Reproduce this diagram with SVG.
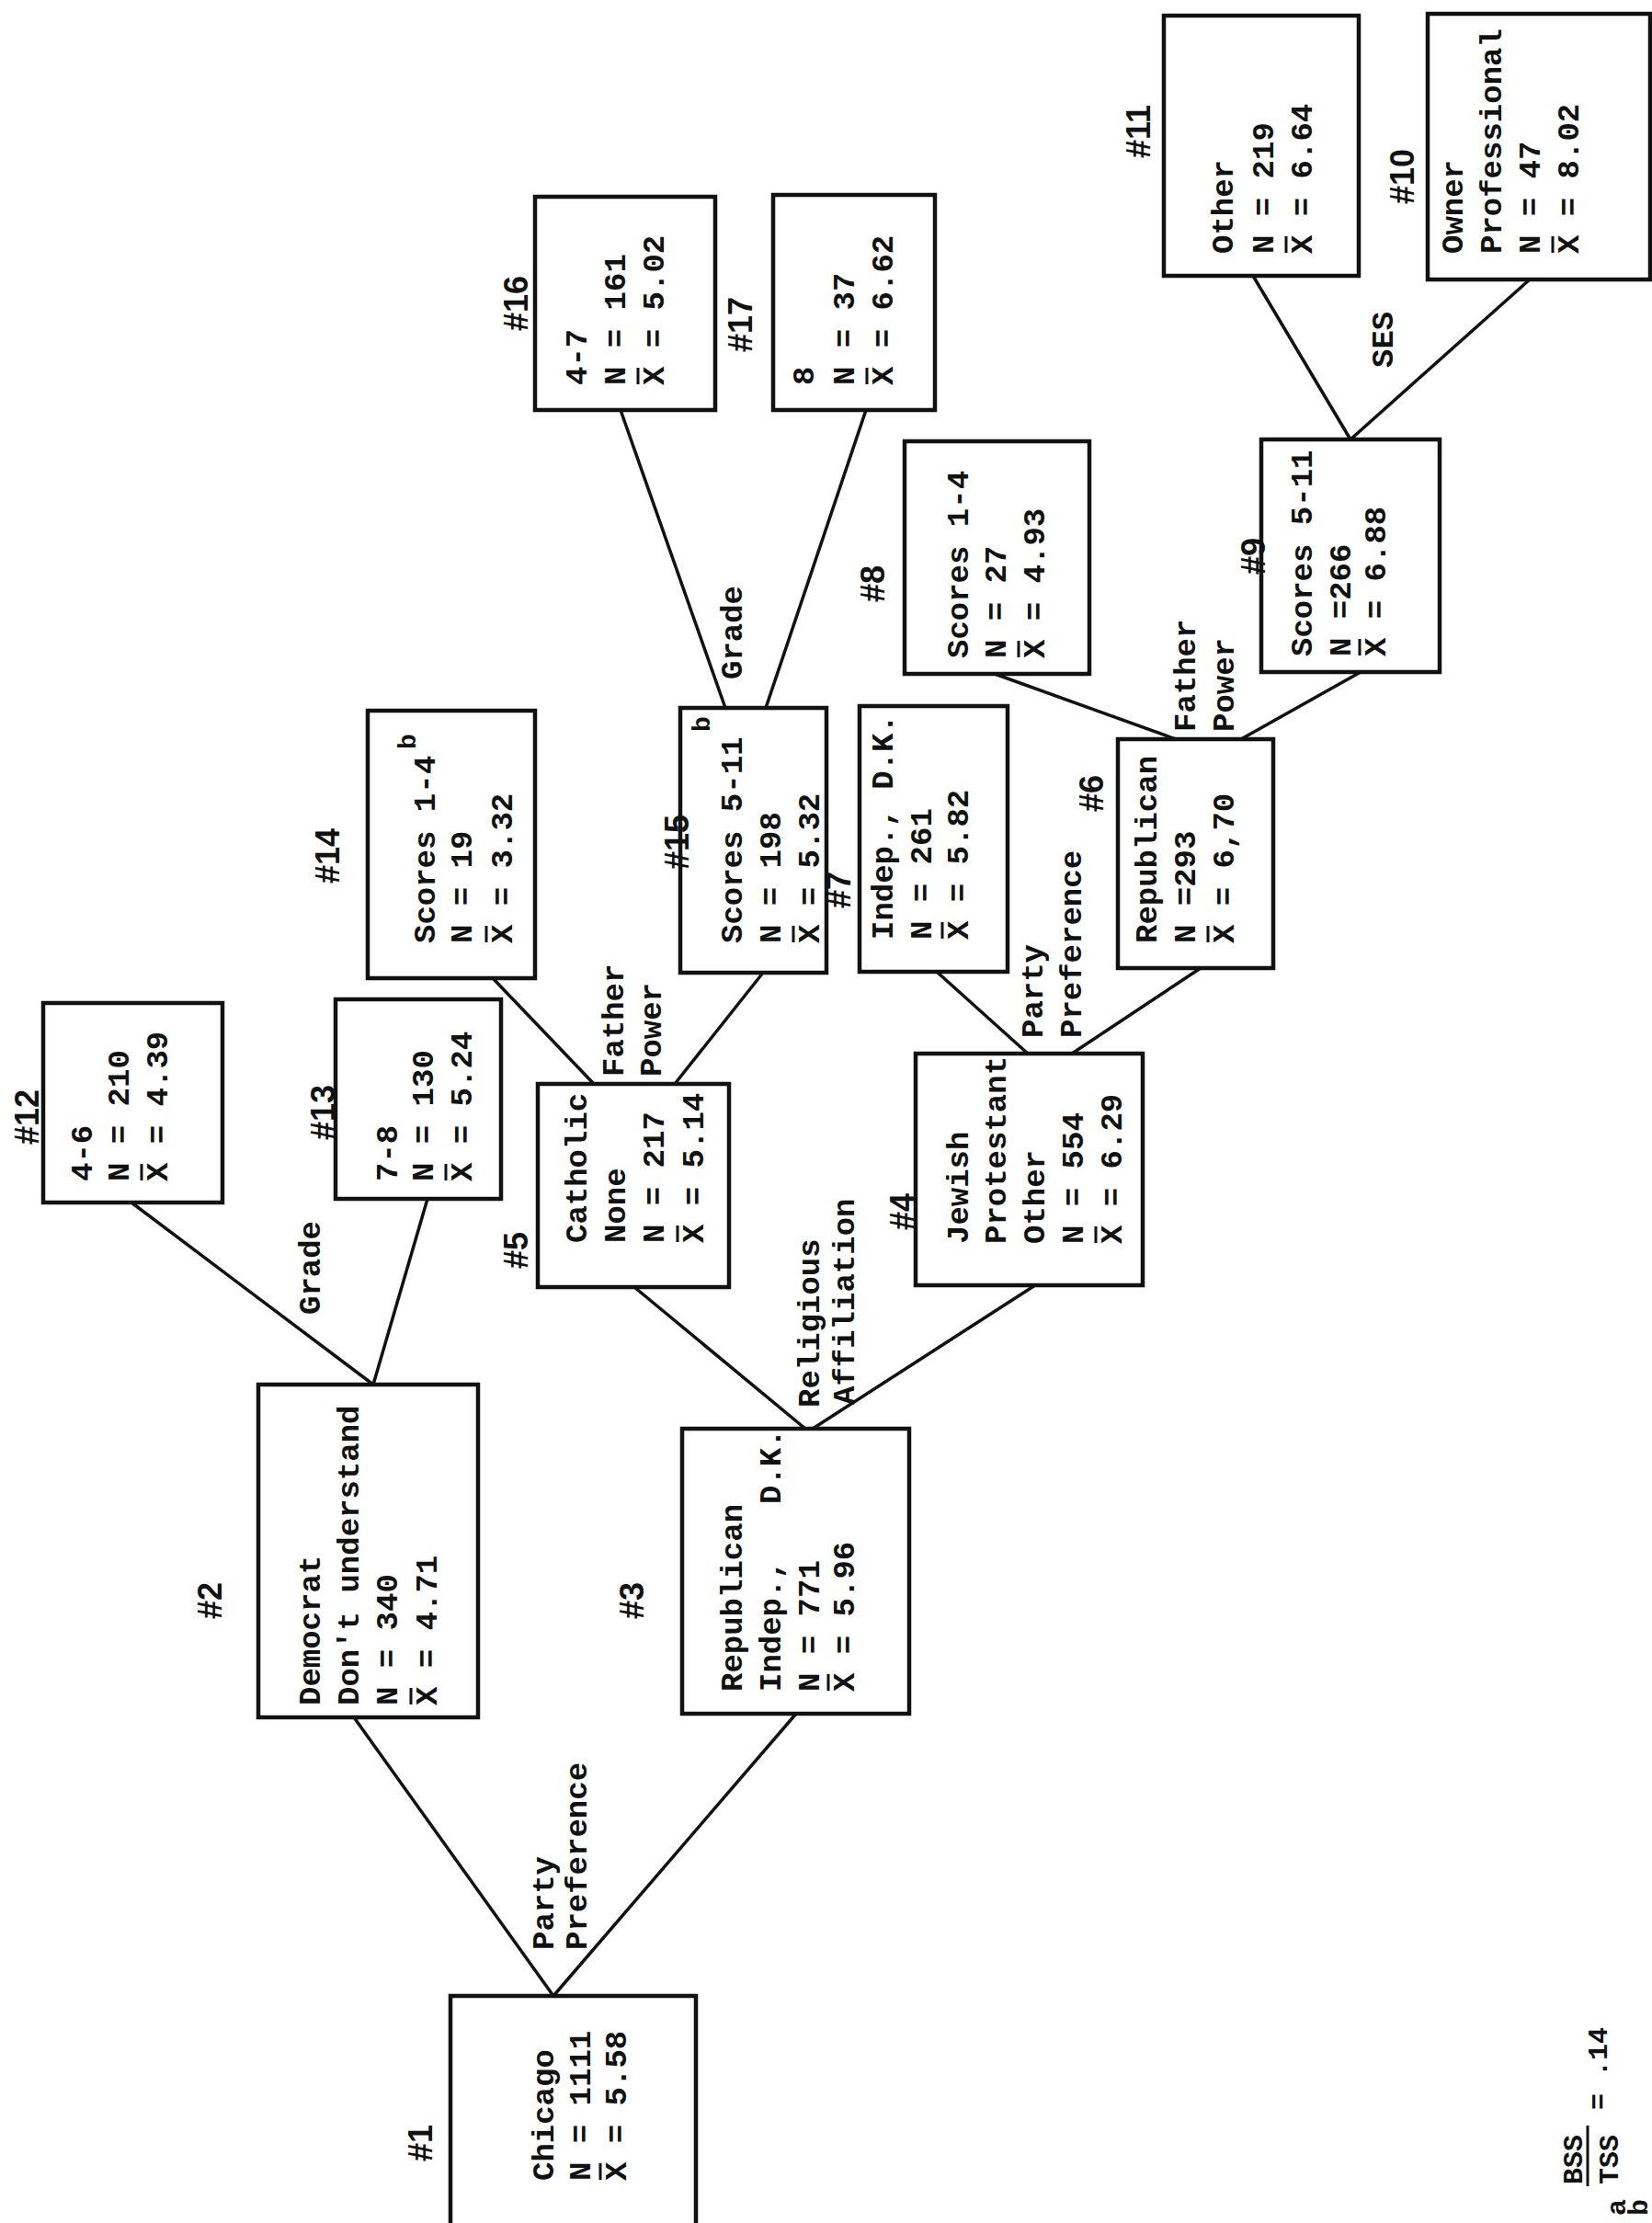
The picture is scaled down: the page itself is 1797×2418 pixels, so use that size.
<svg xmlns="http://www.w3.org/2000/svg" width="1797" height="2418" viewBox="0 0 1797 2418">
<style>
.box{fill:none;stroke:#111;stroke-width:4.5}
.edge{fill:none;stroke:#111;stroke-width:3.5}
.t{font-family:"Liberation Mono","DejaVu Sans Mono",monospace;font-weight:bold;font-size:34px;fill:#111}
.sup{font-family:"Liberation Mono","DejaVu Sans Mono",monospace;font-weight:bold;font-size:28px;fill:#111}
.num{font-family:"Liberation Sans","DejaVu Sans",sans-serif;font-weight:bold;font-size:36px;fill:#111}
.bar{stroke:#111;stroke-width:3}
</style>
<rect width="1797" height="2418" fill="#fff"/>
<g id="connectors">
<line class="edge" x1="602" y1="2171" x2="385" y2="1868"/>
<line class="edge" x1="602" y1="2171" x2="866" y2="1864"/>
<line class="edge" x1="406" y1="1506" x2="143" y2="1308"/>
<line class="edge" x1="406" y1="1506" x2="465" y2="1304"/>
<line class="edge" x1="876" y1="1554" x2="690" y2="1400"/>
<line class="edge" x1="884" y1="1554" x2="1126" y2="1398"/>
<line class="edge" x1="646" y1="1179" x2="536" y2="1064"/>
<line class="edge" x1="734" y1="1179" x2="830" y2="1058"/>
<line class="edge" x1="789" y1="770" x2="675" y2="446"/>
<line class="edge" x1="833" y1="770" x2="942" y2="446"/>
<line class="edge" x1="1118" y1="1146" x2="1019" y2="1057"/>
<line class="edge" x1="1166" y1="1146" x2="1306" y2="1053"/>
<line class="edge" x1="1279" y1="804" x2="1082" y2="733"/>
<line class="edge" x1="1350" y1="804" x2="1480" y2="731"/>
<line class="edge" x1="1469" y1="478" x2="1363" y2="300"/>
<line class="edge" x1="1469" y1="478" x2="1664" y2="304"/>
<g transform="translate(602,2121) rotate(-90)"><text class="t" x="0" y="0">Party</text><text class="t" x="0" y="36">Preference</text></g>
<g transform="translate(348,1430) rotate(-90)"><text class="t" x="0" y="0">Grade</text></g>
<g transform="translate(891,1531) rotate(-90)"><text class="t" x="0" y="0">Religious</text><text class="t" x="3" y="38">Affiliation</text></g>
<g transform="translate(678,1171) rotate(-90)"><text class="t" x="0" y="0">Father</text><text class="t" x="0" y="41">Power</text></g>
<g transform="translate(1134,1129) rotate(-90)"><text class="t" x="0" y="0">Party</text><text class="t" x="0" y="42">Preference</text></g>
<g transform="translate(807,739) rotate(-90)"><text class="t" x="0" y="0">Grade</text></g>
<g transform="translate(1300,796) rotate(-90)"><text class="t" x="0" y="0">Father</text><text class="t" x="0" y="42">Power</text></g>
<g transform="translate(1515,400) rotate(-90)"><text class="t" x="0" y="0">SES</text></g>
</g>
<g id="node-1">
<rect class="box" x="490" y="2171" width="267" height="260"/>
<g transform="translate(470,2351) rotate(-90)"><text class="num">#1</text></g>
<g transform="translate(602,2372) rotate(-90)"><text class="t" y="0">Chicago</text><text class="t" y="40">N = 1111</text><text class="t" y="79">X = 5.58</text><line class="bar" x1="1" x2="19" y1="51" y2="51"/></g>
</g>
<g id="node-2">
<rect class="box" x="281" y="1506" width="239" height="362"/>
<g transform="translate(241,1761) rotate(-90)"><text class="num">#2</text></g>
<g transform="translate(348,1855) rotate(-90)"><text class="t" y="0">Democrat</text><text class="t" y="42">Don't understand</text><text class="t" y="84">N = 340</text><text class="t" y="127">X = 4.71</text><line class="bar" x1="1" x2="19" y1="99" y2="99"/></g>
</g>
<g id="node-3">
<rect class="box" x="742" y="1554" width="247" height="310"/>
<g transform="translate(700,1761) rotate(-90)"><text class="num">#3</text></g>
<g transform="translate(807,1840) rotate(-90)"><text class="t" y="0">Republican</text><text class="t" y="42" xml:space="preserve">Indep.,   D.K.</text><text class="t" y="84">N = 771</text><text class="t" y="122">X = 5.96</text><line class="bar" x1="1" x2="19" y1="94" y2="94"/></g>
</g>
<g id="node-4">
<rect class="box" x="996" y="1146" width="247" height="252"/>
<g transform="translate(994,1338) rotate(-90)"><text class="num">#4</text></g>
<g transform="translate(1053,1353) rotate(-90)"><text class="t" y="0">Jewish</text><text class="t" y="41">Protestant</text><text class="t" y="83">Other</text><text class="t" y="125">N = 554</text><text class="t" y="167">X = 6.29</text><line class="bar" x1="1" x2="19" y1="139" y2="139"/></g>
</g>
<g id="node-5">
<rect class="box" x="585" y="1179" width="208" height="221"/>
<g transform="translate(574,1380) rotate(-90)"><text class="num">#5</text></g>
<g transform="translate(638,1352) rotate(-90)"><text class="t" y="0">Catholic</text><text class="t" y="42">None</text><text class="t" y="84">N = 217</text><text class="t" y="127">X = 5.14</text><line class="bar" x1="1" x2="19" y1="99" y2="99"/></g>
</g>
<g id="node-6">
<rect class="box" x="1216" y="804" width="169" height="249"/>
<g transform="translate(1200,883) rotate(-90)"><text class="num">#6</text></g>
<g transform="translate(1258,1026) rotate(-90)"><text class="t" y="0">Republican</text><text class="t" y="42">N =293</text><text class="t" y="84">X = 6,70</text><line class="bar" x1="1" x2="19" y1="56" y2="56"/></g>
</g>
<g id="node-7">
<rect class="box" x="935" y="768" width="161" height="289"/>
<g transform="translate(925,988) rotate(-90)"><text class="num">#7</text></g>
<g transform="translate(971,1022) rotate(-90)"><text class="t" y="0">Indep., D.K.</text><text class="t" y="42">N = 261</text><text class="t" y="82">X = 5.82</text><line class="bar" x1="1" x2="19" y1="54" y2="54"/></g>
</g>
<g id="node-8">
<rect class="box" x="984" y="480" width="201" height="253"/>
<g transform="translate(962,655) rotate(-90)"><text class="num">#8</text></g>
<g transform="translate(1053,716) rotate(-90)"><text class="t" y="0">Scores 1-4</text><text class="t" y="41">N = 27</text><text class="t" y="83">X = 4.93</text><line class="bar" x1="1" x2="19" y1="55" y2="55"/></g>
</g>
<g id="node-9">
<rect class="box" x="1372" y="478" width="194" height="253"/>
<g transform="translate(1376,625) rotate(-90)"><text class="num">#9</text></g>
<g transform="translate(1427,714) rotate(-90)"><text class="t" y="0">Scores 5-11</text><text class="t" y="42">N =266</text><text class="t" y="80">X = 6.88</text><line class="bar" x1="1" x2="19" y1="52" y2="52"/></g>
</g>
<g id="node-10">
<rect class="box" x="1553" y="15" width="242" height="289"/>
<g transform="translate(1538,222) rotate(-90)"><text class="num">#10</text></g>
<g transform="translate(1591,276) rotate(-90)"><text class="t" y="0">Owner</text><text class="t" y="42">Professional</text><text class="t" y="84">N = 47</text><text class="t" y="126">X = 8.02</text><line class="bar" x1="1" x2="19" y1="98" y2="98"/></g>
</g>
<g id="node-11">
<rect class="box" x="1266" y="17" width="212" height="283"/>
<g transform="translate(1251,172) rotate(-90)"><text class="num">#11</text></g>
<g transform="translate(1341,276) rotate(-90)"><text class="t" y="0">Other</text><text class="t" y="44">N = 219</text><text class="t" y="86">X = 6.64</text><line class="bar" x1="1" x2="19" y1="58" y2="58"/></g>
</g>
<g id="node-12">
<rect class="box" x="47" y="1091" width="195" height="217"/>
<g transform="translate(42,1245) rotate(-90)"><text class="num">#12</text></g>
<g transform="translate(100,1285) rotate(-90)"><text class="t" y="0">4-6</text><text class="t" y="40">N = 210</text><text class="t" y="82">X = 4.39</text><line class="bar" x1="1" x2="19" y1="54" y2="54"/></g>
</g>
<g id="node-13">
<rect class="box" x="365" y="1087" width="180" height="217"/>
<g transform="translate(364,1240) rotate(-90)"><text class="num">#13</text></g>
<g transform="translate(432,1285) rotate(-90)"><text class="t" y="0">7-8</text><text class="t" y="39">N = 130</text><text class="t" y="81">X = 5.24</text><line class="bar" x1="1" x2="19" y1="53" y2="53"/></g>
</g>
<g id="node-14">
<rect class="box" x="400" y="773" width="182" height="291"/>
<g transform="translate(369,961) rotate(-90)"><text class="num">#14</text></g>
<g transform="translate(473,1026) rotate(-90)"><text class="t" y="0">Scores 1-4</text><text class="sup" x="211" y="-21">b</text><text class="t" y="40">N = 19</text><text class="t" y="84">X = 3.32</text><line class="bar" x1="1" x2="19" y1="56" y2="56"/></g>
</g>
<g id="node-15">
<rect class="box" x="740" y="770" width="159" height="288"/>
<g transform="translate(749,946) rotate(-90)"><text class="num">#15</text></g>
<g transform="translate(807,1026) rotate(-90)"><text class="t" y="0">Scores 5-11</text><text class="sup" x="230" y="-35">b</text><text class="t" y="42">N = 198</text><text class="t" y="84">X = 5.32</text><line class="bar" x1="1" x2="19" y1="56" y2="56"/></g>
</g>
<g id="node-16">
<rect class="box" x="582" y="214" width="196" height="232"/>
<g transform="translate(574,360) rotate(-90)"><text class="num">#16</text></g>
<g transform="translate(638,419) rotate(-90)"><text class="t" y="0">4-7</text><text class="t" y="42">N = 161</text><text class="t" y="84">X = 5.02</text><line class="bar" x1="1" x2="19" y1="56" y2="56"/></g>
</g>
<g id="node-17">
<rect class="box" x="841" y="212" width="176" height="234"/>
<g transform="translate(818,383) rotate(-90)"><text class="num">#17</text></g>
<g transform="translate(885,419) rotate(-90)"><text class="t" y="0">8</text><text class="t" y="44">N = 37</text><text class="t" y="86">X = 6.62</text><line class="bar" x1="1" x2="19" y1="58" y2="58"/></g>
</g>
<g id="footnote">
<g transform="translate(1768,2410) rotate(-90)"><text class="t" style="font-size:30px">a</text></g>
<g transform="translate(1721,2376) rotate(-90)"><text class="t" style="font-size:30px">BSS</text></g>
<line class="bar" x1="1727" y1="2312" x2="1727" y2="2378"/>
<g transform="translate(1760,2376) rotate(-90)"><text class="t" style="font-size:30px">TSS</text></g>
<g transform="translate(1748,2295) rotate(-90)"><text class="t" style="font-size:30px">= .14</text></g>
<g transform="translate(1792,2410) rotate(-90)"><text class="t" style="font-size:30px">b</text></g>
</g>
</svg>
